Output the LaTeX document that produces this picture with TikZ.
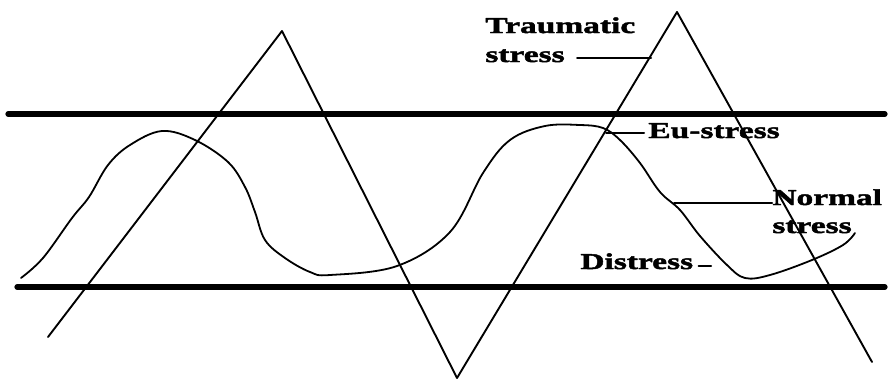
\documentclass[tikz,border=0pt]{standalone}
\usepackage{fontspec}
\newfontfamily\stresslabelfont{Liberation Serif}[FakeStretch=1.48, FakeBold=2]
\begin{document}
\begin{tikzpicture}
% stress curves, drawn on the pixel grid of the scan
\def\pxsz{0.5pt}
\providecommand{\bandLineWidth}{2.6pt}
\providecommand{\zigLineWidth}{0.95pt}
\providecommand{\waveLineWidth}{0.9pt}
\providecommand{\leaderLineWidth}{1pt}
\tikzset{
  stresslabel/.style={font=\stresslabelfont\bfseries\fontsize{11.3}{14.5}\selectfont, inner sep=0pt, anchor=base west},
  leader/.style={line width=\leaderLineWidth},
}
\begin{scope}[x=\pxsz, y=-\pxsz, line cap=round, line join=round]
  \useasboundingbox (0,0) rectangle (894,381);
  % Upper and lower band
  \draw[line width=\bandLineWidth] (8,114) -- (885,114);
  \draw[line width=\bandLineWidth] (17,287) -- (885,287);
  % Traumatic stress zigzag
  \draw[line width=\zigLineWidth] (48,337) -- (282,31) -- (457,378) -- (677,12) -- (872,362);
  % Normal stress wave
  \draw[line width=\waveLineWidth] plot[smooth, tension=0.6] coordinates {
    (21,278) (43,258) (72,218) (89,197) (108,165) (130,145) (162,131)
    (195,140) (228,162) (245,187) (255,212) (265,240) (285,258) (310,272)
    (330,275) (397,266) (450,232) (483,173) (510,140) (545,126) (580,125)
    (603,128) (620,140) (640,163) (660,192) (680,210) (700,236) (727,265)
    (745,278) (770,275) (812,260) (843,245) (855,233)};
  % Leader ends
  \coordinate (traumaticTip) at (651,58);
  \coordinate (euTip) at (606,133);
  \coordinate (normalTip) at (674,203);
  \coordinate (distressTip) at (711,266);
  % Labels
  \node[stresslabel] (traumaticA) at (485,33) {Traumatic};
  \node[stresslabel] (traumaticB) at (485,62) {stress};
  \node[stresslabel] (eu) at (648,138) {Eu-stress};
  \node[stresslabel] (normalA) at (772,205) {Normal};
  \node[stresslabel] (normalB) at (772,233) {stress};
  \node[stresslabel] (distress) at (580,269) {Distress};
  % Leaders
  \draw[leader, shorten <=6pt] (traumaticB.east |- traumaticTip) -- (traumaticTip);
  \draw[leader, shorten >=2pt] (euTip) -- (eu.west |- euTip);
  \draw[leader] (normalTip) -- (normalA.west |- normalTip);
  \draw[leader, shorten <=2.5pt] (distress.east |- distressTip) -- (distressTip);
\end{scope}
\end{tikzpicture}
\end{document}
